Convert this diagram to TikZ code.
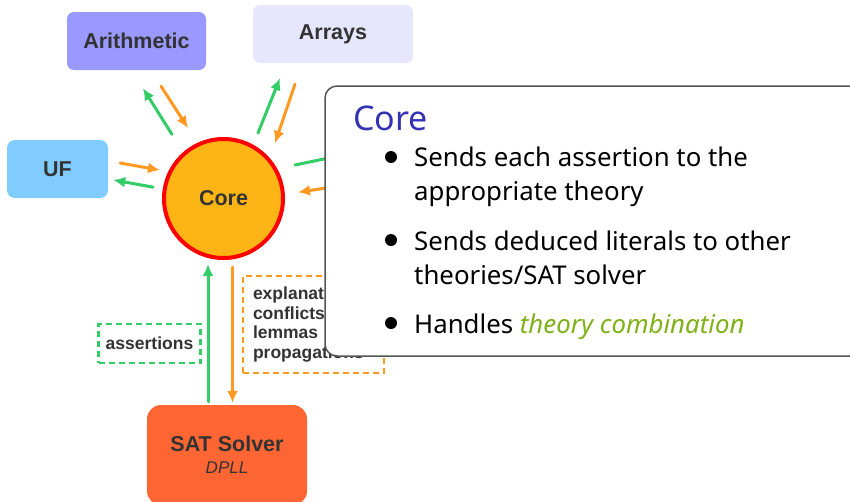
\documentclass[tikz,border=0pt]{standalone}
\usepackage{fontspec}
\setmainfont{Noto Sans}
\newfontfamily\labelfont{Liberation Sans}
\usetikzlibrary{arrows.meta}
\definecolor{arithblue}{HTML}{9999FF}
\definecolor{arraylilac}{HTML}{E6E6FC}
\definecolor{ufblue}{HTML}{80CCFF}
\definecolor{satred}{HTML}{FF6633}
\definecolor{coreorange}{HTML}{FDB515}
\definecolor{sendgreen}{HTML}{33CC66}
\definecolor{backorange}{HTML}{FF9922}
\definecolor{labelgray}{HTML}{333333}
\definecolor{calloutgray}{HTML}{555555}
\definecolor{structblue}{HTML}{3333B3}
\definecolor{combgreen}{HTML}{80B01A}
\begin{document}
\begin{tikzpicture}[x=1pt,y=-1pt]
\tikzstyle{theory}=[rounded corners=7pt,inner sep=0pt,text=labelgray,font=\labelfont\bfseries\fontsize{21.5}{24}\selectfont]
\tikzstyle{garrow}=[draw=sendgreen,line width=3pt,line cap=round,-{Latex[length=12pt,width=11pt]}]
\tikzstyle{oarrow}=[draw=backorange,line width=3pt,line cap=round,-{Latex[length=12pt,width=11pt]}]
\tikzstyle{tag}=[line width=2.5pt,dash pattern=on 6pt off 4pt,inner sep=0pt,text=labelgray,font=\labelfont\bfseries\fontsize{17.5}{19.7}\selectfont]
\tikzstyle{item}=[anchor=base west,align=left,inner sep=0pt,font=\fontsize{25.8}{34}\selectfont]
\clip (0,0) rectangle (850,501);
\node[theory,fill=arithblue,minimum width=139pt,minimum height=58pt] (arith) at (136.5,41) {Arithmetic};
\node[theory,fill=arraylilac,minimum width=160pt,minimum height=58pt] (arrays) at (333,34) {Arrays};
\node[theory,fill=ufblue,rounded corners=8pt,minimum width=101pt,minimum height=58pt] (uf) at (57.5,169) {UF};
\node[theory,circle,fill=coreorange,draw=red,line width=4pt,minimum size=119pt] (core) at (223.5,198.5) {Core};
\node[theory,fill=satred,rounded corners=14pt,minimum width=160pt,minimum height=100pt,align=center] (sat) at (227,455)
  {SAT Solver\\[-2pt]{\mdseries\itshape\fontsize{17}{20}\selectfont DPLL}};
\node[tag,draw=sendgreen,minimum width=102pt,minimum height=39pt] (asrt) at (149.5,343.5) {assertions};
\node[tag,draw=backorange,minimum width=141pt,minimum height=97pt,text width=121pt,align=left] (expl) at (313.5,324.5)
  {explanations\\conflicts\\lemmas\\propagations};
\coordinate (hiddenin) at (420,139);
\coordinate (hiddenout) at (420,174);
\draw[garrow,shorten <=21pt,shorten >=21.3pt] (core.131) -- ([shift={(-4.9,0)}]arith.south);
\draw[oarrow,shorten <=19pt,shorten >=17.5pt] ([shift={(14.2,0)}]arith.south) -- (core.115);
\draw[garrow,shorten <=12.6pt,shorten >=16.1pt] (core.61) -- ([shift={(-47,0)}]arrays.south);
\draw[oarrow,shorten <=22.2pt,shorten >=16pt] ([shift={(-30.9,0)}]arrays.south) -- (core.41);
\draw[oarrow,shorten <=12.2pt,shorten >=8.4pt] ([shift={(0,-8.1)}]uf.east) -- (core.154);
\draw[garrow,shorten <=10pt,shorten >=5.1pt] (core.171) -- ([shift={(0,10.1)}]uf.east);
\draw[garrow,shorten <=18pt] (core.29) -- (hiddenin);
\draw[oarrow,shorten >=13.3pt] (hiddenout) -- (core.4);
\draw[garrow,shorten <=3pt] ([shift={(-19,0)}]sat.north) -- ([shift={(-15.5,4)}]core.south);
\draw[oarrow,shorten >=2pt] ([shift={(9,7)}]core.south) -- ([shift={(5.5,0)}]sat.north);
\node[draw=calloutgray,fill=white,line width=1.5pt,rounded corners=12pt,minimum width=537pt,minimum height=270pt] (callout) at (593.5,221) {};
\node[anchor=base west,inner sep=0pt,text=structblue,font=\fontsize{34}{40}\selectfont] (head) at (353,130) {Core};
\foreach \y in {157,240,323}
  \fill (391,\y) circle (6pt);
\node[item] (route) at (414,200) {Sends each assertion to the\\appropriate theory};
\node[item] (deduce) at (414,284) {Sends deduced literals to other\\theories/SAT solver};
\node[item] (combine) at (414,333) {Handles \textcolor{combgreen}{\itshape theory combination}};
\end{tikzpicture}
\end{document}
